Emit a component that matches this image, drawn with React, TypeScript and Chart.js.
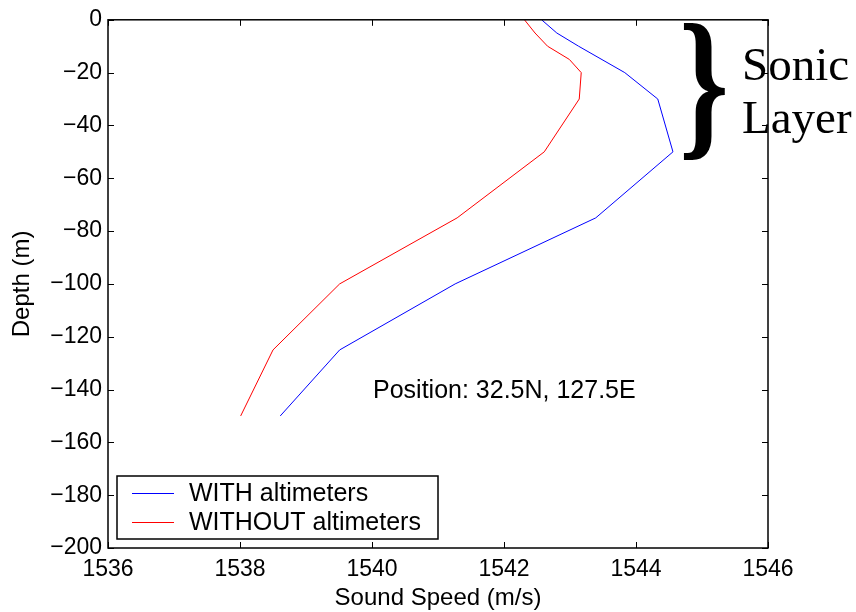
import React, { useEffect, useRef } from "react";
import { Chart, registerables } from "chart.js";

Chart.register(...registerables);

const depthWith = [0, -5, -10, -20, -30, -50, -75, -100, -125, -150];
const speedWith = [1542.57, 1542.8, 1543.13, 1543.83, 1544.33, 1544.56, 1543.39, 1541.26, 1539.51, 1538.61];

const depthWithout = [0, -5, -10, -15, -20, -30, -50, -75, -100, -125, -150];
const speedWithout = [1542.31, 1542.47, 1542.66, 1542.99, 1543.17, 1543.14, 1542.61, 1541.29, 1539.51, 1538.5, 1538.01];

const seriesLabels = ["WITH altimeters", "WITHOUT altimeters"];
const seriesColors = ["#0000ff", "#ff0000"];
const annotationText = "Position: 32.5N, 127.5E";
const bracketLines = ["Sonic", "Layer"];
const xTitle = "Sound Speed (m/s)";
const yTitle = "Depth (m)";

const SANS = "'Liberation Sans', Arial, Helvetica, sans-serif";
const SERIF = "'Liberation Serif', 'Times New Roman', serif";

const decorPlugin = {
  id: "decor",
  afterDraw(chart: any) {
    const ctx = chart.ctx;
    const { left, right, top, bottom } = chart.chartArea;
    const xs = chart.scales.x;
    const ys = chart.scales.y;
    ctx.save();
    // box
    ctx.strokeStyle = "#000";
    ctx.lineWidth = 1.5;
    ctx.strokeRect(left, top, right - left, bottom - top);
    // inward ticks
    ctx.lineWidth = 1;
    const tl = 6;
    xs.ticks.forEach((t: any) => {
      const px = Math.round(xs.getPixelForValue(t.value)) + 0.5;
      ctx.beginPath();
      ctx.moveTo(px, bottom);
      ctx.lineTo(px, bottom - tl);
      ctx.moveTo(px, top);
      ctx.lineTo(px, top + tl);
      ctx.stroke();
    });
    ys.ticks.forEach((t: any) => {
      const py = Math.round(ys.getPixelForValue(t.value)) + 0.5;
      ctx.beginPath();
      ctx.moveTo(left, py);
      ctx.lineTo(left + tl, py);
      ctx.moveTo(right, py);
      ctx.lineTo(right - tl, py);
      ctx.stroke();
    });
    // axis titles
    ctx.fillStyle = "#000";
    ctx.font = `24px ${SANS}`;
    ctx.textAlign = "center";
    ctx.textBaseline = "middle";
    ctx.fillText(xTitle, (left + right) / 2, 598);
    ctx.save();
    ctx.translate(22, (top + bottom) / 2);
    ctx.rotate(-Math.PI / 2);
    ctx.fillText(yTitle, 0, 0);
    ctx.restore();
    // annotation
    ctx.textAlign = "left";
    ctx.textBaseline = "alphabetic";
    ctx.font = `25px ${SANS}`;
    ctx.fillText(annotationText, 373, 398);
    // legend
    ctx.fillStyle = "#fff";
    ctx.fillRect(117, 476, 321, 63);
    ctx.strokeStyle = "#000";
    ctx.lineWidth = 1.5;
    ctx.strokeRect(117, 476, 321, 63);
    const rows = [493.5, 522.5];
    rows.forEach((ry, i) => {
      ctx.strokeStyle = seriesColors[i];
      ctx.lineWidth = 1;
      ctx.beginPath();
      ctx.moveTo(132, ry);
      ctx.lineTo(174, ry);
      ctx.stroke();
      ctx.fillStyle = "#000";
      ctx.textBaseline = "middle";
      ctx.font = `25px ${SANS}`;
      ctx.fillText(seriesLabels[i], 189, ry + 1);
    });
    // brace
    ctx.save();
    ctx.fillStyle = "#000";
    ctx.font = `bold 110px ${SERIF}`;
    ctx.textAlign = "center";
    ctx.textBaseline = "middle";
    ctx.translate(704, 95);
    ctx.scale(1.15, 1.5);
    ctx.fillText("}", 0, 0);
    ctx.restore();
    ctx.font = `47px ${SERIF}`;
    ctx.textAlign = "left";
    ctx.textBaseline = "alphabetic";
    ctx.fillText(bracketLines[0], 742, 80);
    ctx.fillText(bracketLines[1], 742, 133);
    ctx.restore();
  },
};

export default function App() {
  const ref = useRef<HTMLCanvasElement>(null);
  useEffect(() => {
    document.body.style.margin = "0";
    const canvas = ref.current!;
    const chart = new Chart(canvas, {
      type: "line",
      data: {
        datasets: [
          {
            label: seriesLabels[0],
            data: depthWith.map((d, i) => ({ x: speedWith[i], y: d })),
            borderColor: seriesColors[0],
            borderWidth: 1,
            pointRadius: 0,
            fill: false,
            tension: 0,
          },
          {
            label: seriesLabels[1],
            data: depthWithout.map((d, i) => ({ x: speedWithout[i], y: d })),
            borderColor: seriesColors[1],
            borderWidth: 1,
            pointRadius: 0,
            fill: false,
            tension: 0,
          },
        ],
      },
      options: {
        animation: false,
        responsive: false,
        maintainAspectRatio: false,
        parsing: false as any,
        layout: { padding: { left: 0, top: 15, right: 88, bottom: 0 } },
        plugins: { legend: { display: false }, tooltip: { enabled: false } },
        scales: {
          x: {
            type: "linear",
            min: 1536,
            max: 1546,
            ticks: {
              stepSize: 2,
              color: "#000",
              font: { family: SANS, size: 23 },
              padding: 8,
              maxRotation: 0,
              callback: (v: any) => String(v),
            },
            grid: { display: false, drawTicks: false },
            border: { display: false },
            afterFit: (s: any) => {
              s.height = 64;
            },
          },
          y: {
            type: "linear",
            min: -200,
            max: 0,
            ticks: {
              stepSize: 20,
              color: "#000",
              font: { family: SANS, size: 23 },
              padding: 6,
              callback: (v: any) => (v < 0 ? "\u2212" + Math.abs(v) : String(v)),
            },
            grid: { display: false, drawTicks: false },
            border: { display: false },
            afterFit: (s: any) => {
              s.width = 108;
            },
          },
        },
      },
      plugins: [decorPlugin],
    });
    return () => chart.destroy();
  }, []);
  return (
    <div style={{ width: 856, height: 612 }}>
      <canvas ref={ref} width={856} height={612} style={{ display: "block" }} />
    </div>
  );
}
